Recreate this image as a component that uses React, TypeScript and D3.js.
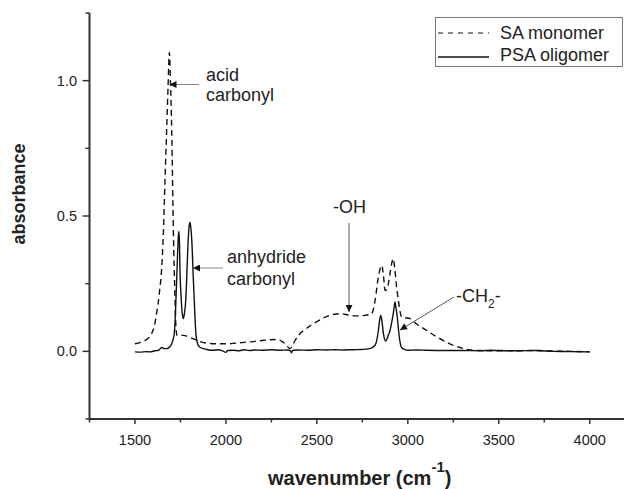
import React from "react";
import * as d3 from "d3";

const W = 624;
const H = 489;

// SA monomer (dashed)
const saWave = [1500, 1530, 1555, 1575, 1592, 1605, 1619, 1633, 1647, 1656, 1665, 1674, 1682, 1689, 1695, 1702, 1711, 1720, 1726, 1732, 1750, 1775, 1800, 1835, 1867, 1900, 1949, 2000, 2050, 2100, 2150, 2200, 2242, 2280, 2310, 2330, 2352, 2365, 2380, 2416, 2450, 2480, 2520, 2554, 2590, 2627, 2655, 2680, 2720, 2765, 2801, 2820, 2838, 2850, 2857, 2866, 2875, 2885, 2893, 2905, 2911, 2920, 2929, 2938, 2948, 2958, 2966, 2985, 3012, 3050, 3104, 3150, 3195, 3240, 3287, 3333, 3400, 3450, 3500, 3600, 3700, 3800, 3900, 4000];
const saAbs = [0.028, 0.033, 0.04, 0.05, 0.066, 0.09, 0.14, 0.21, 0.31, 0.435, 0.63, 0.815, 0.98, 1.104, 1.0, 0.815, 0.446, 0.2, 0.08, 0.058, 0.06, 0.058, 0.052, 0.042, 0.034, 0.03, 0.028, 0.028, 0.03, 0.033, 0.036, 0.04, 0.043, 0.044, 0.036, 0.025, 0.01, 0.02, 0.04, 0.071, 0.088, 0.102, 0.117, 0.129, 0.136, 0.139, 0.137, 0.133, 0.131, 0.133, 0.139, 0.188, 0.274, 0.31, 0.317, 0.28, 0.225, 0.23, 0.25, 0.3, 0.324, 0.342, 0.3, 0.24, 0.188, 0.145, 0.127, 0.124, 0.121, 0.1, 0.077, 0.057, 0.04, 0.025, 0.014, 0.006, 0.003, 0.002, 0.003, 0.002, 0.003, 0.001, 0.0, -0.002];

// PSA oligomer (solid)
const psaWave = [1500, 1530, 1560, 1582, 1610, 1630, 1647, 1660, 1674, 1690, 1702, 1710, 1716, 1721, 1725, 1730, 1735, 1739, 1742, 1745, 1747, 1752, 1757, 1762, 1766, 1772, 1779, 1785, 1790, 1796, 1802, 1808, 1815, 1820, 1826, 1831, 1835, 1842, 1848, 1860, 1876, 1900, 1930, 1960, 1980, 2000, 2010, 2040, 2070, 2100, 2130, 2160, 2200, 2250, 2300, 2340, 2355, 2360, 2368, 2400, 2450, 2500, 2550, 2600, 2650, 2700, 2750, 2790, 2810, 2825, 2838, 2845, 2851, 2858, 2866, 2872, 2878, 2885, 2893, 2902, 2912, 2920, 2926, 2929, 2935, 2942, 2948, 2953, 2960, 2966, 2984, 3000, 3050, 3100, 3200, 3300, 3400, 3460, 3500, 3600, 3700, 3800, 3900, 4000];
const psaAbs = [-0.002, -0.003, -0.001, -0.002, 0.002, 0.004, 0.014, 0.01, 0.01, 0.016, 0.028, 0.045, 0.065, 0.12, 0.188, 0.28, 0.373, 0.43, 0.443, 0.39, 0.31, 0.22, 0.163, 0.13, 0.121, 0.14, 0.188, 0.28, 0.373, 0.45, 0.477, 0.45, 0.373, 0.28, 0.188, 0.11, 0.065, 0.035, 0.022, 0.014, 0.01, 0.006, 0.004, 0.006, 0.002, -0.004, 0.003, 0.004, 0.002, 0.006, 0.003, 0.005, 0.004, 0.006, 0.004, 0.005, 0.002, -0.005, 0.004, 0.005, 0.004, 0.006, 0.005, 0.006, 0.005, 0.006, 0.007, 0.01, 0.016, 0.03, 0.077, 0.115, 0.133, 0.11, 0.065, 0.045, 0.038, 0.045, 0.06, 0.077, 0.11, 0.139, 0.17, 0.182, 0.16, 0.127, 0.085, 0.053, 0.025, 0.014, 0.006, 0.004, 0.005, 0.004, 0.003, 0.003, 0.002, 0.004, 0.002, 0.002, 0.003, 0.0, -0.001, -0.002];

const xMajor = [1500, 2000, 2500, 3000, 3500, 4000];
const xMinor = [1250, 1750, 2250, 2750, 3250, 3750];
const yMajor = [0.0, 0.5, 1.0];
const yMinor = [-0.25, 0.25, 0.75, 1.25];
const seriesNames = ["SA monomer", "PSA oligomer"];

const FONT = "Liberation Sans, Arial, Helvetica, sans-serif";
const INK = "#222";

export default function App() {
  const x = d3.scaleLinear().domain([1250, 4250]).range([89.5, 635.2]);
  const y = d3.scaleLinear().domain([-0.25, 1.25]).range([419, 13]);

  const line = d3
    .line<[number, number]>()
    .x((d) => x(d[0]))
    .y((d) => y(d[1]))
    .curve(d3.curveMonotoneX);

  const saPts = saWave.map((w, i) => [w, saAbs[i]] as [number, number]);
  const psaPts = psaWave.map((w, i) => [w, psaAbs[i]] as [number, number]);

  const x0 = x(1250);
  const yBase = y(-0.25);

  return (
    <svg
      width={W}
      height={H}
      style={{ position: "absolute", left: 0, top: 0, background: "#fff" }}
      fontFamily={FONT}
    >
      <defs>
        <marker id="ah" viewBox="0 0 10 10" refX="10" refY="5" markerWidth="8" markerHeight="7" markerUnits="userSpaceOnUse" orient="auto">
          <path d="M0,0 L10,5 L0,10 z" fill="#111" />
        </marker>
      </defs>
      <rect x={0} y={0} width={W} height={H} fill="#fff" />

      {/* series */}
      <path d={line(saPts) || ""} fill="none" stroke="#111" strokeWidth={1.4} strokeDasharray="6,4" />
      <path d={line(psaPts) || ""} fill="none" stroke="#111" strokeWidth={1.4} />

      {/* axes */}
      <line x1={x0} x2={W} y1={yBase} y2={yBase} stroke="#333" strokeWidth={2} />
      <line x1={x0} x2={x0} y1={y(1.25)} y2={yBase} stroke="#333" strokeWidth={2} />
      {xMajor.map((t) => (
        <g key={"xm" + t}>
          <line x1={x(t)} x2={x(t)} y1={yBase} y2={yBase + 5} stroke="#333" strokeWidth={1.5} />
          <text x={x(t)} y={445} textAnchor="middle" fontSize={14.5} fill={INK}>
            {t}
          </text>
        </g>
      ))}
      {xMinor.map((t) => (
        <line key={"xn" + t} x1={x(t)} x2={x(t)} y1={yBase} y2={yBase + 3.5} stroke="#333" strokeWidth={1.5} />
      ))}
      {yMajor.map((t) => (
        <g key={"ym" + t}>
          <line x1={x0 - 7} x2={x0} y1={y(t)} y2={y(t)} stroke="#333" strokeWidth={1.5} />
          <text x={77} y={y(t) + 5} textAnchor="end" fontSize={14.5} fill={INK}>
            {t.toFixed(1)}
          </text>
        </g>
      ))}
      {yMinor.map((t) => (
        <line key={"yn" + t} x1={x0 - 4} x2={x0} y1={y(t)} y2={y(t)} stroke="#333" strokeWidth={1.5} />
      ))}

      {/* axis titles */}
      <text transform="translate(25,194) rotate(-90)" textAnchor="middle" fontSize={18} fontWeight="bold" fill={INK}>
        absorbance
      </text>
      <text x={268} y={485} fontSize={20} fontWeight="bold" fill={INK}>
        wavenumber (cm
        <tspan dy={-13} fontSize={15}>-1</tspan>
        <tspan dy={13}>)</tspan>
      </text>

      {/* legend */}
      <rect x={435.5} y={17.5} width={187} height={49} fill="#fff" stroke="#777" strokeWidth={1} />
      <line x1={438} x2={489} y1={33} y2={33} stroke="#111" strokeWidth={1.2} strokeDasharray="5,5" />
      <line x1={438} x2={489} y1={57} y2={57} stroke="#111" strokeWidth={1.4} />
      <text x={500} y={38.5} fontSize={18} fill={INK}>{seriesNames[0]}</text>
      <text x={500} y={61} fontSize={18} fill={INK}>{seriesNames[1]}</text>

      {/* annotations */}
      <line x1={199} x2={169.5} y1={84.5} y2={84.5} stroke="#888" strokeWidth={1} markerEnd="url(#ah)" />
      <text x={206} y={81} fontSize={18} fill={INK}>acid</text>
      <text x={206} y={101} fontSize={18} fill={INK}>carbonyl</text>

      <line x1={223} x2={193} y1={268} y2={268} stroke="#888" strokeWidth={1} markerEnd="url(#ah)" />
      <text x={227} y={263} fontSize={18} fill={INK}>anhydride</text>
      <text x={227} y={285} fontSize={18} fill={INK}>carbonyl</text>

      <line x1={349} x2={349} y1={223} y2={312} stroke="#555" strokeWidth={1} markerEnd="url(#ah)" />
      <text x={333} y={213} fontSize={18} fill={INK}>-OH</text>

      <line x1={454} x2={400} y1={297} y2={330} stroke="#555" strokeWidth={1} markerEnd="url(#ah)" />
      <text x={456} y={302} fontSize={18} fill={INK}>
        -CH
        <tspan dy={6} fontSize={12}>2</tspan>
        <tspan dy={-6}>-</tspan>
      </text>
    </svg>
  );
}
